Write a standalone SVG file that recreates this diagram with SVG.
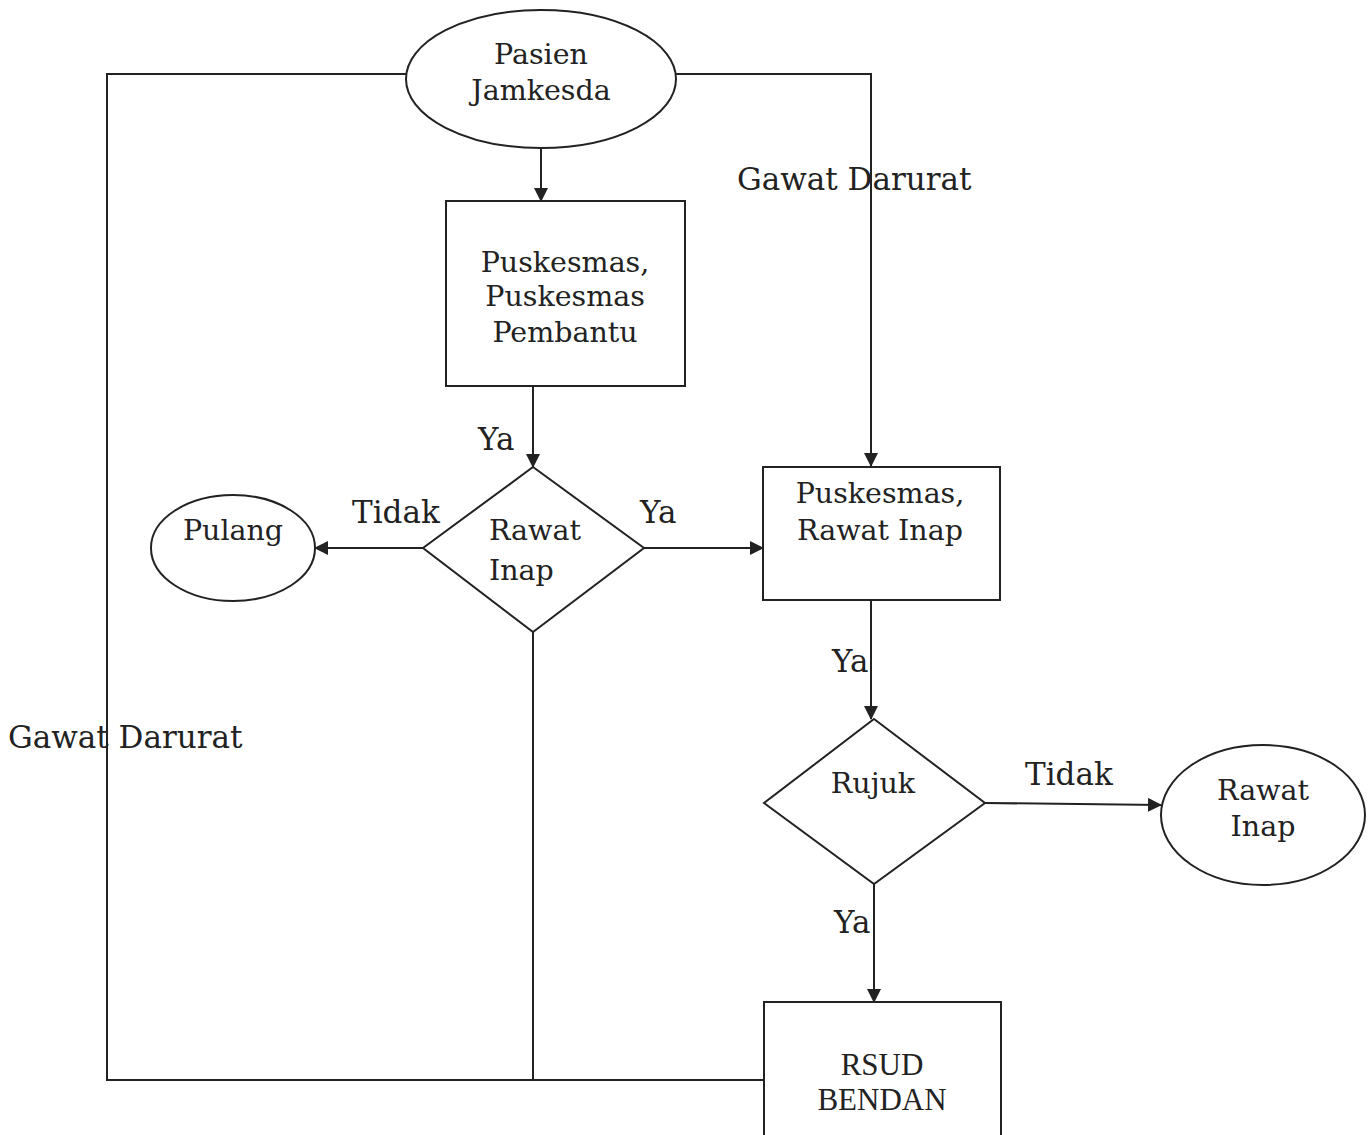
<svg xmlns="http://www.w3.org/2000/svg" width="1372" height="1135" viewBox="0 0 1372 1135">
<defs>
<marker id="arr" markerWidth="14" markerHeight="14" refX="13" refY="7" orient="auto" markerUnits="userSpaceOnUse">
<path d="M0,0 L14,7 L0,14 Z" fill="#222"/>
</marker>
<style>
.shape{fill:none;stroke:#222;stroke-width:2}
.ln{fill:none;stroke:#222;stroke-width:2}
.t{font-family:"DejaVu Serif","Liberation Serif",serif;fill:#222;font-size:28.5px}
.lb{font-family:"DejaVu Serif","Liberation Serif",serif;fill:#222;font-size:31px}
.tr{font-family:"Liberation Serif",serif;fill:#222;font-size:31px}
</style>
</defs>
<rect width="1372" height="1135" fill="#fff"/>
<g id="connectors">
<polyline class="ln" points="406,74 107,74 107,1080 764,1080"/>
<polyline class="ln" points="676,74 871,74 871,466" marker-end="url(#arr)"/>
<line class="ln" x1="541" y1="149" x2="541" y2="201" marker-end="url(#arr)"/>
<line class="ln" x1="533" y1="386" x2="533" y2="467" marker-end="url(#arr)"/>
<line class="ln" x1="423" y1="548" x2="315" y2="548" marker-end="url(#arr)"/>
<line class="ln" x1="644" y1="548" x2="763" y2="548" marker-end="url(#arr)"/>
<line class="ln" x1="533" y1="632" x2="533" y2="1080"/>
<line class="ln" x1="871" y1="600" x2="871" y2="719" marker-end="url(#arr)"/>
<line class="ln" x1="985" y1="803" x2="1161" y2="805" marker-end="url(#arr)"/>
<line class="ln" x1="874" y1="884" x2="874" y2="1002" marker-end="url(#arr)"/>
<text class="lb" x="737" y="190">Gawat Darurat</text>
<text class="lb" x="478" y="450">Ya</text>
<text class="lb" x="352" y="523">Tidak</text>
<text class="lb" x="640" y="523">Ya</text>
<text class="lb" x="832" y="672">Ya</text>
<text class="lb" x="8" y="748">Gawat Darurat</text>
<text class="lb" x="1025" y="785">Tidak</text>
<text class="lb" x="834" y="933">Ya</text>
</g>
<g id="pasien">
<ellipse class="shape" cx="541" cy="79" rx="135" ry="69"/>
<text class="t" x="541" y="64" text-anchor="middle">Pasien</text>
<text class="t" x="541" y="100" text-anchor="middle">Jamkesda</text>
</g>
<g id="puskesmas">
<rect class="shape" x="446" y="201" width="239" height="185"/>
<text class="t" x="565" y="272" text-anchor="middle">Puskesmas,</text>
<text class="t" x="565" y="306" text-anchor="middle">Puskesmas</text>
<text class="t" x="565" y="342" text-anchor="middle">Pembantu</text>
</g>
<g id="rawat-inap-decision">
<polygon class="shape" points="533,467 644,548 533,632 423,548"/>
<text class="t" x="489" y="540">Rawat</text>
<text class="t" x="489" y="580">Inap</text>
</g>
<g id="pulang">
<ellipse class="shape" cx="233" cy="548" rx="82" ry="53"/>
<text class="t" x="233" y="540" text-anchor="middle" font-size="20">Pulang</text>
</g>
<g id="puskesmas-rawat-inap">
<rect class="shape" x="763" y="467" width="237" height="133"/>
<text class="t" x="880" y="503" text-anchor="middle">Puskesmas,</text>
<text class="t" x="880" y="540" text-anchor="middle">Rawat Inap</text>
</g>
<g id="rujuk">
<polygon class="shape" points="874,719 985,803 874,884 764,803"/>
<text class="t" x="873" y="793" text-anchor="middle">Rujuk</text>
</g>
<g id="rawat-inap">
<ellipse class="shape" cx="1263" cy="815" rx="102" ry="70"/>
<text class="t" x="1263" y="800" text-anchor="middle">Rawat</text>
<text class="t" x="1263" y="836" text-anchor="middle">Inap</text>
</g>
<g id="rsud">
<rect class="shape" x="764" y="1002" width="237" height="140"/>
<text class="tr" x="882" y="1075" text-anchor="middle">RSUD</text>
<text class="tr" x="882" y="1110" text-anchor="middle">BENDAN</text>
</g>
</svg>
